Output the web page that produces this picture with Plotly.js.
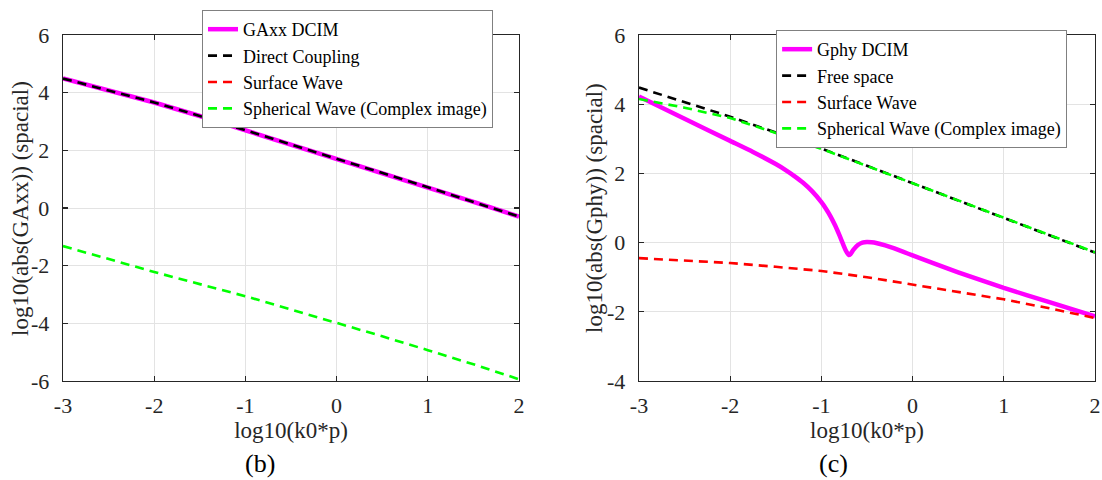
<!DOCTYPE html>
<html>
<head>
<meta charset="utf-8">
<script src="https://cdn.plot.ly/plotly-3.0.1.min.js"></script>
<style>html,body{margin:0;padding:0;background:#fff;}#chart{width:1102px;height:480px;}</style>
</head>
<body>
<div id="chart"></div>
<script>
// ---- data ----
// panel (b): GAxx
const xB = [-3, -2.5, -2, -1.5, -1, -0.5, 0, 0.5, 1, 1.5, 2];
const gaxxDCIM   = [4.49, 4.07, 3.66, 3.19, 2.70, 2.21, 1.72, 1.22, 0.72, 0.21, -0.30];
const gaxxDirect = [4.49, 4.07, 3.66, 3.19, 2.70, 2.21, 1.72, 1.22, 0.72, 0.21, -0.30];
// surface-wave term is not drawn in panel (b) (no finite values on this scale)
const gaxxSurface = [null, null, null, null, null, null, null, null, null, null, null];
const gaxxSpherical = [-1.32, -1.78, -2.22, -2.64, -3.06, -3.52, -3.98, -4.45, -4.93, -5.42, -5.94];

// panel (c): Gphy
const xC = [-3, -2.5, -2, -1.5, -1, -0.5, 0, 0.5, 1, 1.5, 2];
const gphyFree      = [4.48, 4.05, 3.64, 3.18, 2.72, 2.22, 1.72, 1.22, 0.72, 0.22, -0.29];
const gphySurface   = [-0.45, -0.52, -0.59, -0.70, -0.82, -1.00, -1.21, -1.41, -1.64, -1.90, -2.18];
const gphySpherical = [4.15, 3.90, 3.60, 3.17, 2.71, 2.22, 1.72, 1.22, 0.72, 0.22, -0.28];
const xCdcim = [-3, -2.5, -2, -1.75, -1.5, -1.4, -1.3, -1.2, -1.1, -1.0, -0.95, -0.9, -0.85, -0.8, -0.76, -0.73, -0.7, -0.68, -0.65, -0.6, -0.55, -0.5, -0.45, -0.4, -0.3, -0.2, -0.1, 0, 0.5, 1, 1.5, 2];
const gphyDCIM = [4.22, 3.58, 2.94, 2.62, 2.27, 2.11, 1.93, 1.73, 1.48, 1.17, 0.98, 0.76, 0.50, 0.20, -0.06, -0.24, -0.36, -0.33, -0.21, -0.07, 0.00, 0.02, 0.01, -0.01, -0.08, -0.17, -0.27, -0.37, -0.86, -1.31, -1.72, -2.13];

const xTicks = [-3, -2, -1, 0, 1, 2];
const xTickText = ['-3', '-2', '-1', '0', '1', '2'];
const yTicksB = [-6, -4, -2, 0, 2, 4, 6];
const yTickTextB = ['-6', '-4', '-2', '0', '2', '4', '6'];
const yTicksC = [-4, -2, 0, 2, 4, 6];
const yTickTextC = ['-4', '-2', '0', '2', '4', '6'];

const namesB = ['GAxx DCIM', 'Direct Coupling', 'Surface Wave', 'Spherical Wave (Complex image)'];
const namesC = ['Gphy DCIM', 'Free space', 'Surface Wave', 'Spherical Wave (Complex image)'];
const xTitle = 'log10(k0*p)';
const yTitles = ['log10(abs(GAxx)) (spacial)', 'log10(abs(Gphy)) (spacial)'];
const panelLabels = ['(b)', '(c)'];

// ---- styles ----
const FONT = 'Liberation Serif, Times New Roman, serif';
const TXT = '#262626';
const solid = (c) => ({color: c, width: 4.5});
const dashed = (c) => ({color: c, width: 2.6, dash: '9px,6px'});

const traces = [
  {x: xB, y: gaxxDCIM, name: namesB[0], mode: 'lines', line: solid('#ff00ff'), xaxis: 'x', yaxis: 'y', legend: 'legend'},
  {x: xB, y: gaxxDirect, name: namesB[1], mode: 'lines', line: dashed('#000000'), xaxis: 'x', yaxis: 'y', legend: 'legend'},
  {x: xB, y: gaxxSurface, name: namesB[2], mode: 'lines', line: dashed('#ff0000'), xaxis: 'x', yaxis: 'y', legend: 'legend'},
  {x: xB, y: gaxxSpherical, name: namesB[3], mode: 'lines', line: dashed('#00ff00'), xaxis: 'x', yaxis: 'y', legend: 'legend'},

  {x: xCdcim, y: gphyDCIM, name: namesC[0], mode: 'lines', line: Object.assign(solid('#ff00ff'), {shape: 'spline', smoothing: 0.5}), xaxis: 'x2', yaxis: 'y2', legend: 'legend2'},
  {x: xC, y: gphyFree, name: namesC[1], mode: 'lines', line: dashed('#000000'), xaxis: 'x2', yaxis: 'y2', legend: 'legend2'},
  {x: xC, y: gphySurface, name: namesC[2], mode: 'lines', line: dashed('#ff0000'), xaxis: 'x2', yaxis: 'y2', legend: 'legend2'},
  {x: xC, y: gphySpherical, name: namesC[3], mode: 'lines', line: dashed('#00ff00'), xaxis: 'x2', yaxis: 'y2', legend: 'legend2'}
];

const axisCommon = {
  showline: true, linecolor: TXT, linewidth: 1.3, mirror: 'ticks',
  ticks: 'inside', ticklen: 5, tickwidth: 1.2, tickcolor: TXT,
  showgrid: true, gridcolor: '#e3e3e3', gridwidth: 1,
  zeroline: false, tickfont: {family: FONT, size: 22, color: TXT},
  tickmode: 'array', fixedrange: true
};
const titleFont = {family: FONT, size: 23, color: TXT};

const layout = {
  width: 1102, height: 480,
  margin: {l: 63, r: 7, t: 35, b: 99},
  paper_bgcolor: '#ffffff', plot_bgcolor: '#ffffff',
  showlegend: true,
  xaxis: Object.assign({}, axisCommon, {domain: [0, 0.4419], range: [-3, 2], tickvals: xTicks, ticktext: xTickText,
    ticklabelstandoff: 4, title: {text: xTitle, font: titleFont, standoff: 0}, anchor: 'y'}),
  yaxis: Object.assign({}, axisCommon, {range: [-6, 6], tickvals: yTicksB, ticktext: yTickTextB,
    ticklabelstandoff: 8, anchor: 'x'}),
  xaxis2: Object.assign({}, axisCommon, {domain: [0.5581, 1], range: [-3, 2], tickvals: xTicks, ticktext: xTickText,
    ticklabelstandoff: 4, title: {text: xTitle, font: titleFont, standoff: 0}, anchor: 'y2'}),
  yaxis2: Object.assign({}, axisCommon, {range: [-4, 6], tickvals: yTicksC, ticktext: yTickTextC,
    ticklabelstandoff: 8, anchor: 'x2'}),
  legend: {x: 0.1347, y: 1.0723, xanchor: 'left', yanchor: 'top', bgcolor: '#ffffff',
    bordercolor: '#808080', borderwidth: 1, font: {family: FONT, size: 18, color: '#000'}, tracegroupgap: 0},
  legend2: {x: 0.691, y: 1.0145, xanchor: 'left', yanchor: 'top', bgcolor: '#ffffff',
    bordercolor: '#808080', borderwidth: 1, font: {family: FONT, size: 18, color: '#000'}, tracegroupgap: 0},
  annotations: [
    {text: yTitles[0], xref: 'paper', yref: 'paper', x: -0.0417, y: 0.5, textangle: -90, showarrow: false,
      xanchor: 'center', yanchor: 'middle', font: titleFont},
    {text: yTitles[1], xref: 'paper', yref: 'paper', x: 0.5145, y: 0.5, textangle: -90, showarrow: false,
      xanchor: 'center', yanchor: 'middle', font: titleFont},
    {text: panelLabels[0], xref: 'paper', yref: 'paper', x: 0.1909, y: -0.237, showarrow: false,
      xanchor: 'center', yanchor: 'middle', font: {family: FONT, size: 26, color: '#000'}},
    {text: panelLabels[1], xref: 'paper', yref: 'paper', x: 0.747, y: -0.237, showarrow: false,
      xanchor: 'center', yanchor: 'middle', font: {family: FONT, size: 26, color: '#000'}}
  ]
};

Plotly.newPlot('chart', traces, layout, {staticPlot: true, displayModeBar: false});
</script>
</body>
</html>
